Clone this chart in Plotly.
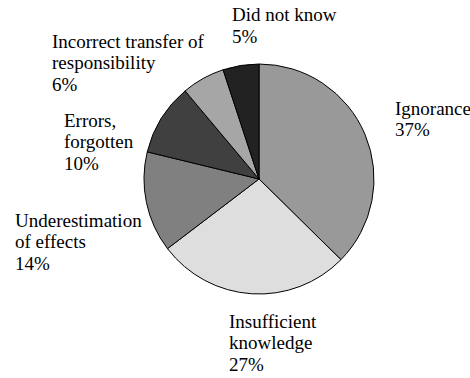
import plotly.graph_objects as go

# Causes of the incidents, clockwise from 12 o'clock
causes = ["Ignorance", "Insufficient knowledge", "Underestimation of effects",
          "Errors, forgotten", "Incorrect transfer of responsibility", "Did not know"]
shares = [37, 27, 14, 10, 6, 5]
label_lines = [["Ignorance"], ["Insufficient", "knowledge"], ["Underestimation", "of effects"],
               ["Errors,", "forgotten"], ["Incorrect transfer of", "responsibility"], ["Did not know"]]
colors = ["#999999", "#dedede", "#808080", "#404040", "#a6a6a6", "#222222"]

W, H = 470, 378
cx, cy, r = 259, 179, 115

# label anchor: left x and baseline of the first line (pixels from top-left)
label_pos = [(393, 115), (227, 328), (13, 227), (62, 127), (50, 48), (230, 22)]
LINE_STEP = 21.7
SERIF = "Liberation Serif"

fig = go.Figure(go.Pie(
    labels=causes, values=shares, sort=False, direction="clockwise", rotation=0,
    marker=dict(colors=colors, line=dict(color="black", width=1)),
    textinfo="none", hoverinfo="label+percent", showlegend=False,
    domain=dict(x=[(cx - r) / W, (cx + r) / W], y=[(H - cy - r) / H, (H - cy + r) / H]),
))

for lines, share, (lx, base) in zip(label_lines, shares, label_pos):
    for i, txt in enumerate(lines + [f"{share}%"]):
        b = base + i * LINE_STEP
        fig.add_annotation(
            text=txt, x=lx / W, y=1 - (b - 7) / H, xref="paper", yref="paper",
            xanchor="left", yanchor="middle", showarrow=False,
            font=dict(family=SERIF, size=19, color="black"),
        )

fig.update_layout(
    width=W, height=H, margin=dict(l=0, r=0, t=0, b=0),
    font=dict(family=SERIF, color="black"),
    paper_bgcolor="white", plot_bgcolor="white",
)
fig.write_html("out.html")
